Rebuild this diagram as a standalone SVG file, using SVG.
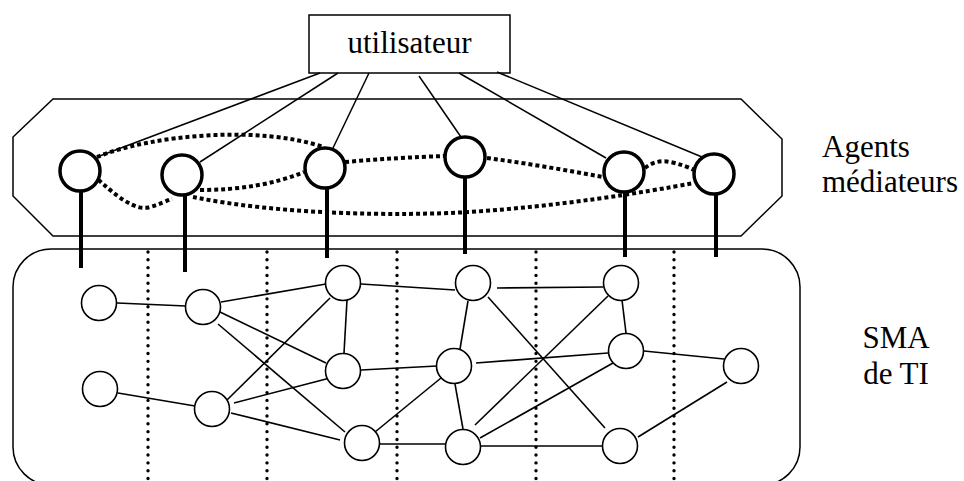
<svg xmlns="http://www.w3.org/2000/svg" width="964" height="481" viewBox="0 0 964 481">
<style>
.txt{font-family:"Liberation Serif","Times New Roman",serif;font-size:31px;fill:#000}
.frame{fill:none;stroke:#000;stroke-width:1.5}
.agent{fill:#fff;stroke:#000;stroke-width:3.5}
.node{fill:#fff;stroke:#000;stroke-width:1.6}
.thin{stroke:#000;stroke-width:1.5;fill:none}
.edge{stroke:#000;stroke-width:1.6;fill:none}
.stem{stroke:#000;stroke-width:4;fill:none}
.dash{stroke:#000;stroke-width:4;stroke-dasharray:4 3;fill:none}
.dots{stroke:#000;stroke-width:3.4;stroke-dasharray:0.01 7.8;stroke-linecap:round;fill:none}
</style>
<rect width="964" height="481" fill="#fff"/>
<g id="sma-frame">
<rect class="frame" x="13" y="249" width="787" height="236" rx="38" ry="38"/>
</g>
<g id="agents-frame">
<polygon class="frame" points="53,99 741,99 782,139 782,196 741,236 53,236 13,196 13,137"/>
</g>
<g id="separators">
<line class="dots" x1="148" y1="252" x2="148" y2="481"/>
<line class="dots" x1="267" y1="252" x2="267" y2="481"/>
<line class="dots" x1="397" y1="252" x2="397" y2="481"/>
<line class="dots" x1="536" y1="252" x2="536" y2="481"/>
<line class="dots" x1="674" y1="252" x2="674" y2="481"/>
</g>
<g id="connectors">
<line class="thin" x1="320" y1="73" x2="97" y2="157"/>
<line class="thin" x1="338" y1="73" x2="200" y2="162"/>
<line class="thin" x1="369" y1="73" x2="333" y2="148"/>
<line class="thin" x1="419" y1="76" x2="461" y2="137"/>
<line class="thin" x1="459" y1="73" x2="606" y2="158"/>
<line class="thin" x1="497" y1="72" x2="702" y2="157"/>
<path class="dash" d="M97 157 C150 135 260 125 323 147"/>
<path class="dash" d="M93 175 C115 195 135 212 150 207 C160 204 166 201 172 199"/>
<path class="dash" d="M200 190 C240 190 275 184 304 172"/>
<path class="dash" d="M193 197 C280 215 400 216 470 212 C560 206 640 193 694 183"/>
<path class="dash" d="M345 162 C380 159 415 157 445 156"/>
<path class="dash" d="M487 158 C525 163 565 170 603 177"/>
<path class="dash" d="M645 168 C652 162 662 160 670 162 C680 164 688 167 694 170"/>
<line class="stem" x1="81" y1="190" x2="81" y2="268"/>
<line class="stem" x1="185" y1="195" x2="185" y2="272"/>
<line class="stem" x1="327" y1="187" x2="327" y2="258"/>
<line class="stem" x1="465" y1="176" x2="465" y2="254"/>
<line class="stem" x1="625" y1="191" x2="625" y2="257"/>
<line class="stem" x1="716" y1="193" x2="716" y2="257"/>
<line class="edge" x1="117" y1="303" x2="186" y2="306"/>
<line class="edge" x1="221" y1="302" x2="326" y2="284"/>
<line class="edge" x1="220" y1="312" x2="326" y2="363"/>
<line class="edge" x1="218" y1="324" x2="345" y2="432"/>
<line class="edge" x1="330" y1="298" x2="227" y2="400"/>
<line class="edge" x1="347" y1="300" x2="344" y2="353"/>
<line class="edge" x1="361" y1="284" x2="455" y2="290"/>
<line class="edge" x1="118" y1="393" x2="195" y2="406"/>
<line class="edge" x1="234" y1="403" x2="330" y2="378"/>
<line class="edge" x1="231" y1="413" x2="340" y2="440"/>
<line class="edge" x1="361" y1="370" x2="437" y2="366"/>
<line class="edge" x1="468" y1="301" x2="460" y2="349"/>
<line class="edge" x1="441" y1="378" x2="375" y2="432"/>
<line class="edge" x1="455" y1="384" x2="463" y2="429"/>
<line class="edge" x1="380" y1="444" x2="446" y2="444"/>
<line class="edge" x1="497" y1="288" x2="603" y2="287"/>
<line class="edge" x1="488" y1="297" x2="605" y2="428"/>
<line class="edge" x1="622" y1="300" x2="626" y2="333"/>
<line class="edge" x1="608" y1="296" x2="475" y2="425"/>
<line class="edge" x1="613" y1="363" x2="480" y2="438"/>
<line class="edge" x1="476" y1="363" x2="608" y2="353"/>
<line class="edge" x1="644" y1="351" x2="724" y2="359"/>
<line class="edge" x1="727" y1="382" x2="638" y2="437"/>
<line class="edge" x1="481" y1="446" x2="602" y2="446"/>
</g>
<g id="utilisateur">
<rect class="frame" x="309" y="15" width="201" height="58" fill="#fff"/>
<text class="txt" x="409.5" y="53" text-anchor="middle">utilisateur</text>
</g>
<g id="agent1"><circle class="agent" cx="80" cy="171" r="20"/></g>
<g id="agent2"><circle class="agent" cx="182" cy="175" r="20"/></g>
<g id="agent3"><circle class="agent" cx="325" cy="168" r="20"/></g>
<g id="agent4"><circle class="agent" cx="465" cy="157" r="20"/></g>
<g id="agent5"><circle class="agent" cx="624" cy="172" r="20"/></g>
<g id="agent6"><circle class="agent" cx="714" cy="174" r="20"/></g>
<g id="n1"><circle class="node" cx="99" cy="303" r="17.5"/></g>
<g id="n2"><circle class="node" cx="203" cy="307" r="17.5"/></g>
<g id="n3"><circle class="node" cx="343" cy="283" r="17.5"/></g>
<g id="n4"><circle class="node" cx="473" cy="283" r="17.5"/></g>
<g id="n5"><circle class="node" cx="100" cy="389" r="17.5"/></g>
<g id="n6"><circle class="node" cx="212" cy="409" r="17.5"/></g>
<g id="n7"><circle class="node" cx="343" cy="371" r="17.5"/></g>
<g id="n8"><circle class="node" cx="454" cy="366" r="17.5"/></g>
<g id="n9"><circle class="node" cx="362" cy="443" r="17.5"/></g>
<g id="n10"><circle class="node" cx="463" cy="447" r="17.5"/></g>
<g id="n11"><circle class="node" cx="621" cy="283" r="17.5"/></g>
<g id="n12"><circle class="node" cx="626" cy="351" r="17.5"/></g>
<g id="n13"><circle class="node" cx="741" cy="366" r="17.5"/></g>
<g id="n14"><circle class="node" cx="620" cy="446" r="17.5"/></g>
<g id="labels">
<text class="txt" x="822" y="157">Agents</text>
<text class="txt" x="822" y="192">médiateurs</text>
<text class="txt" x="896" y="348" text-anchor="middle">SMA</text>
<text class="txt" x="896" y="384" text-anchor="middle">de TI</text>
</g>
</svg>
